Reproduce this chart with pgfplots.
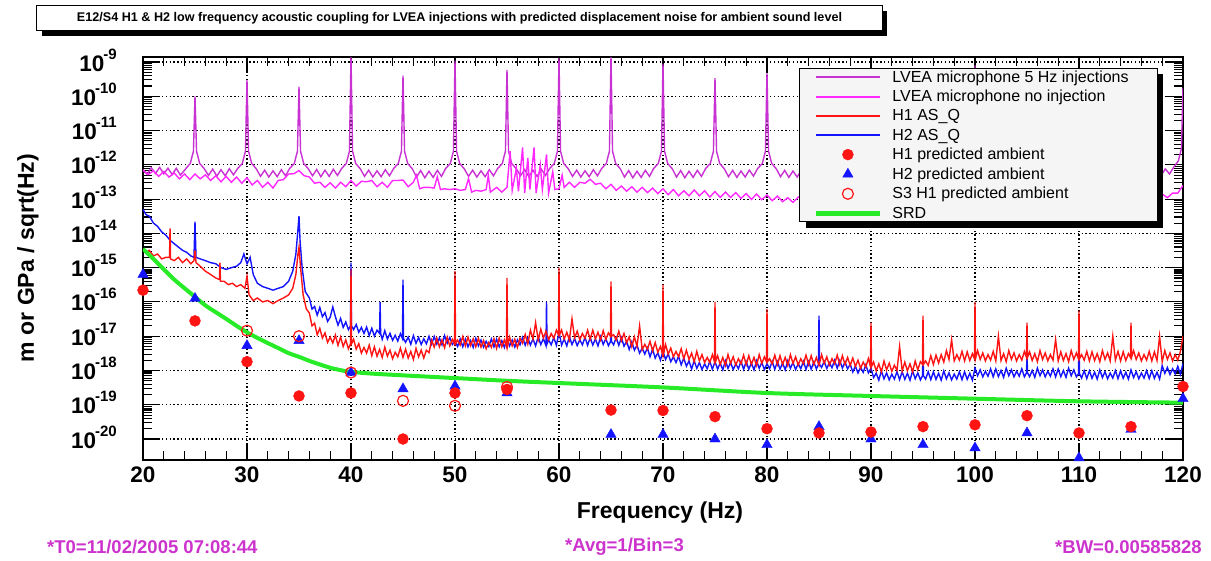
\documentclass[border=0pt]{standalone}
\usepackage{fontspec}
\setmainfont{Liberation Sans}
\usepackage{pgfplots}
\pgfplotsset{compat=1.18}
\usetikzlibrary{shadows}

\definecolor{injcol}{RGB}{200,50,210}
\definecolor{noinjcol}{RGB}{255,40,255}
\definecolor{hred}{RGB}{255,20,20}
\definecolor{hblue}{RGB}{20,20,255}
\definecolor{srdgreen}{RGB}{40,235,40}
\definecolor{infocol}{RGB}{204,51,204}

% ROOT style exponent label
\newcommand{\ex}[1]{10\kern-1pt\raisebox{12pt}{\fontsize{15}{15}\selectfont\bfseries #1}}

\begin{document}
\begin{tikzpicture}
\useasboundingbox (-143pt,-101pt) rectangle (1068pt,460pt);
\begin{axis}[
  at={(0pt,0pt)}, anchor=south west,
  scale only axis, width=1040pt, height=403pt,
  xmin=20, xmax=120,
  ymode=log, ymin=2.44e-21, ymax=1.4e-9,
  xtick={20,30,40,50,60,70,80,90,100,110,120},
  xticklabels={20,30,40,50,60,70,80,90,100,110,120},
  minor x tick num=4,
  ytick={1e-20,1e-19,1e-18,1e-17,1e-16,1e-15,1e-14,1e-13,1e-12,1e-11,1e-10,1e-9},
  yticklabels={\ex{-20},\ex{-19},\ex{-18},\ex{-17},\ex{-16},\ex{-15},\ex{-14},\ex{-13},\ex{-12},\ex{-11},\ex{-10},\ex{-9}},
  tick label style={font=\fontsize{22.5}{24}\selectfont\bfseries},
  xticklabel style={anchor=north, inner sep=0pt, yshift=-7pt},
  yticklabel style={anchor=base east, inner sep=0pt, xshift=-26pt, yshift=-9pt},
  axis line style={line width=1.6pt},
  every tick/.style={black, line width=1.1pt},
  major tick length=16pt, minor tick length=9pt,
  grid=major,
  major grid style={black, line width=1.1pt, dash pattern=on 1.4pt off 2.4pt},
  clip mode=individual,
  legend image code/.code={\draw[mark repeat=2,mark phase=2,#1] plot coordinates {(0pt,0pt) (32pt,0pt) (64pt,0pt)};},
  legend cell align=left,
  legend style={at={(0.8034,0.7816)}, anchor=center, draw=none, fill=none,
    font=\fontsize{16}{18}\selectfont,
    inner xsep=11pt, inner ysep=1pt, column sep=8pt, row sep=2.5pt},
]
\addlegendimage{injcol, line width=2pt}
\addlegendentry{LVEA microphone 5 Hz injections\hspace*{13pt}}
\addlegendimage{noinjcol, line width=2pt}
\addlegendentry{LVEA microphone no injection}
\addlegendimage{hred, line width=2.2pt}
\addlegendentry{H1 AS\_Q}
\addlegendimage{hblue, line width=2.2pt}
\addlegendentry{H2 AS\_Q}
\addlegendimage{only marks, mark=*, mark size=5.5pt, hred}
\addlegendentry{H1 predicted ambient}
\addlegendimage{only marks, mark=triangle*, mark size=6pt, hblue}
\addlegendentry{H2 predicted ambient}
\addlegendimage{only marks, mark=o, mark size=5.5pt, hred, line width=1.2pt}
\addlegendentry{S3 H1 predicted ambient}
\addlegendimage{srdgreen, line width=5pt}
\addlegendentry{SRD}

% LVEA microphone, 5 Hz injections
\addplot[injcol, line width=1.4pt, forget plot] coordinates {
(20.0,7.0e-13) (20.4,5.3e-13) (20.8,8.2e-13) (21.2,5.6e-13) (21.6,8.4e-13) (22.0,5.5e-13)
(22.4,8.0e-13) (22.8,5.2e-13) (23.2,7.9e-13) (23.6,5.0e-13) (24.1,7.6e-13) (24.55,1.1e-12) (24.85,2.5e-12)
(25.0,1.0e-10) (25.15,2.5e-12) (25.45,1.1e-12) (25.9,7.6e-13) (26.3,4.9e-13) (26.7,7.5e-13) (27.1,4.7e-13)
(27.5,7.2e-13) (27.9,4.8e-13) (28.3,7.7e-13) (28.7,5.1e-13) (29.1,7.8e-13) (29.55,1.1e-12) (29.85,2.5e-12)
(30.0,3.0e-10) (30.15,2.5e-12) (30.45,1.1e-12) (30.9,7.6e-13) (31.3,4.6e-13) (31.7,7.0e-13) (32.1,4.4e-13)
(32.5,6.7e-13) (32.9,4.5e-13) (33.3,7.2e-13) (33.7,4.8e-13) (34.1,7.8e-13) (34.55,1.1e-12) (34.85,2.5e-12)
(35.0,1.9e-10) (35.15,2.5e-12) (35.45,1.1e-12) (35.9,7.6e-13) (36.3,4.8e-13) (36.7,7.3e-13) (37.1,4.5e-13)
(37.5,7.0e-13) (37.9,4.6e-13) (38.3,7.4e-13) (38.7,4.9e-13) (39.1,7.8e-13) (39.55,1.1e-12) (39.85,2.5e-12)
(40.0,1.5e-9) (40.15,2.5e-12) (40.45,1.1e-12) (40.9,7.6e-13) (41.3,4.6e-13) (41.7,7.0e-13) (42.1,4.4e-13)
(42.5,6.7e-13) (42.9,4.5e-13) (43.3,7.2e-13) (43.7,4.8e-13) (44.1,7.8e-13) (44.55,1.1e-12) (44.85,2.5e-12)
(45.0,4.0e-10) (45.15,2.5e-12) (45.45,1.1e-12) (45.9,7.6e-13) (46.3,4.4e-13) (46.7,6.8e-13) (47.1,4.2e-13)
(47.5,6.5e-13) (47.9,4.3e-13) (48.3,6.9e-13) (48.7,4.6e-13) (49.1,7.8e-13) (49.55,1.1e-12) (49.85,2.5e-12)
(50.0,1.1e-9) (50.15,2.5e-12) (50.45,1.1e-12) (50.9,7.6e-13) (51.3,4.6e-13) (51.7,7.0e-13) (52.1,4.4e-13)
(52.5,6.7e-13) (52.9,4.5e-13) (53.3,7.2e-13) (53.7,4.8e-13) (54.1,7.8e-13) (54.55,1.1e-12) (54.85,2.5e-12)
(55.0,5.9e-10) (55.15,2.5e-12) (55.45,1.1e-12) (55.9,7.6e-13) (56.3,4.8e-13) (56.7,7.3e-13) (57.1,4.5e-13)
(57.5,7.0e-13) (57.9,4.6e-13) (58.3,7.4e-13) (58.7,4.9e-13) (59.1,7.8e-13) (59.55,1.1e-12) (59.85,2.5e-12)
(60.0,1.3e-9) (60.15,2.5e-12) (60.45,1.1e-12) (60.9,7.6e-13) (61.3,4.6e-13) (61.7,7.0e-13) (62.1,4.4e-13)
(62.5,6.7e-13) (62.9,4.5e-13) (63.3,7.2e-13) (63.7,4.8e-13) (64.1,7.8e-13) (64.55,1.1e-12) (64.85,2.5e-12)
(65.0,1.5e-9) (65.15,2.5e-12) (65.45,1.1e-12) (65.9,7.6e-13) (66.3,4.4e-13) (66.7,6.8e-13) (67.1,4.2e-13)
(67.5,6.5e-13) (67.9,4.3e-13) (68.3,6.9e-13) (68.7,4.6e-13) (69.1,7.8e-13) (69.55,1.1e-12) (69.85,2.5e-12)
(70.0,9.0e-10) (70.15,2.5e-12) (70.45,1.1e-12) (70.9,7.6e-13) (71.3,4.4e-13) (71.7,6.8e-13) (72.1,4.2e-13)
(72.5,6.5e-13) (72.9,4.3e-13) (73.3,6.9e-13) (73.7,4.6e-13) (74.1,7.8e-13) (74.55,1.1e-12) (74.85,2.5e-12)
(75.0,3.4e-10) (75.15,2.5e-12) (75.45,1.1e-12) (75.9,7.6e-13) (76.3,4.5e-13) (76.7,6.9e-13) (77.1,4.3e-13)
(77.5,6.6e-13) (77.9,4.4e-13) (78.3,7.0e-13) (78.7,4.7e-13) (79.1,7.8e-13) (79.55,1.1e-12) (79.85,2.5e-12)
(80.0,4.7e-10) (80.15,2.5e-12) (80.45,1.1e-12) (80.9,7.6e-13) (81.3,4.5e-13) (81.7,6.9e-13) (82.1,4.3e-13)
(82.5,6.6e-13) (82.9,4.4e-13) (83.3,7.0e-13) (83.7,4.7e-13) (84.1,7.8e-13) (84.55,1.1e-12) (84.85,2.5e-12)
(85.0,3.0e-10) (85.15,2.5e-12) (85.45,1.1e-12) (85.9,7.6e-13) (86.3,4.5e-13) (86.7,6.9e-13) (87.1,4.3e-13)
(87.5,6.6e-13) (87.9,4.4e-13) (88.3,7.0e-13) (88.7,4.7e-13) (89.1,7.8e-13) (89.55,1.1e-12) (89.85,2.5e-12)
(90.0,6.0e-10) (90.15,2.5e-12) (90.45,1.1e-12) (90.9,7.6e-13) (91.3,4.5e-13) (91.7,6.9e-13) (92.1,4.3e-13)
(92.5,6.6e-13) (92.9,4.4e-13) (93.3,7.0e-13) (93.7,4.7e-13) (94.1,7.8e-13) (94.55,1.1e-12) (94.85,2.5e-12)
(95.0,3.0e-10) (95.15,2.5e-12) (95.45,1.1e-12) (95.9,7.6e-13) (96.3,4.5e-13) (96.7,6.9e-13) (97.1,4.3e-13)
(97.5,6.6e-13) (97.9,4.4e-13) (98.3,7.0e-13) (98.7,4.7e-13) (99.1,7.8e-13) (99.55,1.1e-12) (99.85,2.5e-12)
(100.0,8.0e-10) (100.15,2.5e-12) (100.45,1.1e-12) (100.9,7.6e-13) (101.3,4.5e-13) (101.7,6.9e-13) (102.1,4.3e-13)
(102.5,6.6e-13) (102.9,4.4e-13) (103.3,7.0e-13) (103.7,4.7e-13) (104.1,7.8e-13) (104.55,1.1e-12) (104.85,2.5e-12)
(105.0,3.2e-10) (105.15,2.5e-12) (105.45,1.1e-12) (105.9,7.6e-13) (106.3,4.5e-13) (106.7,6.9e-13) (107.1,4.3e-13)
(107.5,6.6e-13) (107.9,4.4e-13) (108.3,7.0e-13) (108.7,4.7e-13) (109.1,7.8e-13) (109.55,1.1e-12) (109.85,2.5e-12)
(110.0,5.0e-10) (110.15,2.5e-12) (110.45,1.1e-12) (110.9,7.6e-13) (111.3,4.6e-13) (111.7,7.0e-13) (112.1,4.4e-13)
(112.5,6.7e-13) (112.9,4.5e-13) (113.3,7.2e-13) (113.7,4.8e-13) (114.1,7.8e-13) (114.55,1.1e-12) (114.85,2.5e-12)
(115.0,3.0e-10) (115.15,2.5e-12) (115.45,1.1e-12) (115.9,7.6e-13) (116.3,4.8e-13) (116.7,7.3e-13) (117.1,4.6e-13)
(117.5,7.2e-13) (117.9,5.0e-13) (118.3,7.6e-13) (118.7,5.4e-13) (119.1,8.5e-13) (119.55,1.3e-12) (119.85,3.0e-12)
(120.0,1.8e-10)
};

% LVEA microphone, no injection
\addplot[noinjcol, line width=1.4pt, forget plot] coordinates {
(20.0,7.1e-13) (20.5,5.2e-13) (21.0,6.7e-13) (21.5,4.6e-13) (22.0,6.4e-13) (22.5,4.4e-13) (23.0,5.8e-13)
(23.5,3.9e-13) (24.0,5.4e-13) (24.5,3.7e-13) (25.0,5.4e-13) (25.5,3.9e-13) (26.0,5.1e-13) (26.5,3.5e-13)
(27.0,4.8e-13) (27.5,3.2e-13) (28.0,4.6e-13) (28.5,3.1e-13) (29.0,4.4e-13) (29.5,2.9e-13) (30.0,4.2e-13)
(30.5,2.6e-13) (31.0,3.5e-13) (31.5,2.2e-13) (32.0,3.1e-13) (32.5,2.1e-13) (33.0,3.5e-13) (33.5,3.7e-13)
(34.0,5.4e-13) (34.5,5.5e-13) (35.0,6.8e-13) (35.5,4.8e-13) (36.0,4.4e-13) (36.5,2.9e-13) (37.0,3.1e-13)
(37.5,2.2e-13) (38.0,3.0e-13) (38.5,2.1e-13) (39.0,3.1e-13) (39.5,2.3e-13) (40.0,3.5e-13) (40.5,2.4e-13)
(41.0,3.3e-13) (41.5,3.2e-13) (42.0,3.5e-13) (42.5,2.3e-13) (43.0,3.1e-13) (43.5,2.2e-13) (44.0,3.5e-13)
(44.5,3.5e-13) (45.0,3.6e-13) (45.5,2.3e-13) (46.0,3.1e-13) (46.3,5.0e-13) (46.6,2.0e-13) (47.0,2.2e-13)
(47.5,2.2e-13) (48.0,2.1e-13) (48.3,4.5e-13) (48.6,1.9e-13) (49.0,2.0e-13) (49.5,1.9e-13) (50.0,2.0e-13)
(50.5,1.8e-13) (51.0,1.9e-13) (51.3,4.0e-13) (51.6,1.6e-13) (52.0,1.8e-13) (52.5,1.7e-13) (53.0,1.9e-13)
(53.2,5.0e-13) (53.4,1.6e-13) (54.0,2.2e-13) (54.5,1.6e-13) (55.0,2.2e-13) (55.3,2.5e-12) (55.5,1.8e-13)
(55.9,7.9e-13) (56.1,1.7e-13) (56.5,3.2e-12) (56.7,1.5e-13) (57.0,1.6e-12) (57.2,1.9e-13) (57.6,3.2e-12)
(57.8,1.5e-13) (58.2,1.0e-12) (58.4,1.9e-13) (58.8,2.0e-12) (59.0,1.5e-13) (59.4,6.3e-13) (59.6,1.9e-13)
(60.0,2.0e-13) (60.3,5.0e-13) (60.5,2.2e-13) (61.0,3.1e-13) (61.5,2.2e-13) (62.0,3.1e-13) (62.5,2.9e-13)
(63.0,3.8e-13) (63.5,2.7e-13) (64.0,2.9e-13) (64.5,2.0e-13) (65.0,2.7e-13) (65.5,1.8e-13) (66.0,2.4e-13)
(66.5,1.7e-13) (67.0,2.3e-13) (67.5,1.6e-13) (68.0,2.2e-13) (68.5,1.55e-13) (69.0,2.1e-13) (69.5,1.45e-13)
(70.0,2.0e-13) (70.5,1.35e-13) (71.0,1.9e-13) (71.5,1.25e-13) (72.0,1.75e-13) (72.5,1.25e-13) (73.0,1.85e-13)
(73.5,1.25e-13) (74.0,1.75e-13) (74.5,1.15e-13) (75.0,1.65e-13) (75.5,1.12e-13) (76.0,1.6e-13) (76.5,1.12e-13)
(77.0,1.55e-13) (77.5,1.05e-13) (78.0,1.45e-13) (78.5,9.8e-14) (79.0,1.4e-13) (79.5,9.6e-14) (80.0,1.32e-13)
(80.5,9.0e-14) (81.0,1.22e-13) (81.5,8.4e-14) (82.0,1.1e-13) (82.5,8.0e-14) (83.0,1.15e-13) (83.5,1.05e-13)
(84.0,1.18e-13) (84.5,1.1e-13) (86.0,1.1e-13) (88.0,1.0e-13) (90.0,1.05e-13) (92.0,9.5e-14) (94.0,1.0e-13)
(96.0,9.2e-14) (98.0,9.8e-14) (100.0,9.3e-14) (102.0,9.6e-14) (104.0,9.0e-14) (106.0,9.4e-14) (108.0,8.8e-14)
(110.0,1.1e-13) (110.5,8.2e-14) (111.0,1.15e-13) (111.5,8.4e-14) (112.0,1.2e-13) (112.5,8.6e-14) (113.0,1.25e-13)
(113.5,9.0e-14) (114.0,1.3e-13) (114.5,9.5e-14) (115.0,1.3e-13) (115.5,1.0e-13) (116.0,1.35e-13) (116.5,1.0e-13)
(117.0,1.4e-13) (117.5,1.05e-13) (118.0,1.4e-13) (118.5,1.1e-13) (119.0,1.5e-13) (119.5,1.5e-13) (120.0,2.5e-13)
};

% H2 AS_Q
\addplot[hblue, line width=1.4pt, forget plot] coordinates {
(20.0,5.0e-14) (20.3,3.5e-14) (20.6,3.2e-14) (21.0,2.0e-14) (21.4,1.6e-14) (21.8,1.1e-14) (22.2,8.9e-15)
(22.6,6.3e-15) (23.0,5.0e-15) (23.4,4.0e-15) (23.8,3.2e-15) (24.2,2.8e-15) (24.6,2.2e-15) (24.9,2.0e-15)
(25.0,2.2e-14) (25.1,2.0e-15) (25.5,1.8e-15) (26.0,1.6e-15) (26.5,1.4e-15) (27.0,1.3e-15) (27.5,1.0e-15)
(28.0,8.9e-16) (28.5,1.0e-15) (29.0,1.1e-15) (29.4,1.4e-15) (29.7,2.5e-15) (30.0,1.3e-15) (30.3,2.0e-15)
(30.6,6.3e-16) (31.0,3.5e-16) (31.5,2.8e-16) (32.0,2.5e-16) (32.5,2.2e-16) (33.0,2.5e-16) (33.5,2.8e-16)
(34.0,4.0e-16) (34.4,7.9e-16) (34.7,2.5e-15) (34.9,1.3e-14) (35.0,3.2e-14) (35.1,6.3e-15) (35.3,1.0e-15)
(35.6,2.0e-16)
(36.0,1.3e-16) (36.25,6.2e-17) (36.5,7.4e-17) (36.75,4.1e-17) (37.0,6.9e-17) (37.25,3.7e-17) (37.5,4.9e-17)
(37.75,2.7e-17) (38.0,3.6e-17) (38.25,7.1e-17) (38.5,3.7e-17) (38.75,2.1e-17) (39.0,3.3e-17) (39.25,1.8e-17)
(39.5,2.6e-17) (39.75,1.55e-17) (39.95,2.0e-17) (40.0,1.4e-15) (40.05,2.0e-17) (40.25,1.56e-17) (40.5,2.2e-17)
(40.75,1.3e-17) (41.0,1.8e-17) (41.25,1.2e-17) (41.5,1.85e-17) (41.75,1.04e-17) (42.0,1.7e-17) (42.25,1.0e-17)
(42.5,1.5e-17) (42.75,1.2e-17) (42.8,1.0e-16) (42.85,1.2e-17) (43.0,8.1e-18) (43.25,1.45e-17) (43.5,8.2e-18)
(43.75,1.22e-17) (44.0,7.6e-18) (44.25,1.06e-17) (44.5,7.2e-18) (44.75,1.19e-17) (44.95,8.5e-18) (45.0,4.5e-16)
(45.05,8.5e-18) (45.25,6.6e-18) (45.5,9.4e-18) (45.75,5.8e-18) (46.0,1.04e-17) (46.25,6.2e-18) (46.5,9.2e-18)
(46.75,5.7e-18) (47.0,8.4e-18) (47.25,6.0e-18) (47.5,9.9e-18) (47.75,5.8e-18) (48.0,9.8e-18) (48.25,5.9e-18)
(48.5,8.9e-18) (48.75,5.6e-18) (49.0,1.04e-17) (49.25,6.2e-18) (49.5,9.2e-18) (49.75,5.7e-18) (50.0,7.1e-18)
(50.25,5.0e-18) (50.5,8.3e-18) (50.75,4.9e-18) (51.0,8.2e-18) (51.25,4.9e-18) (51.5,7.4e-18) (51.75,4.7e-18)
(52.0,8.7e-18) (52.25,5.2e-18) (52.5,7.7e-18) (52.75,4.8e-18) (53.0,7.1e-18) (53.25,5.0e-18) (53.5,8.3e-18)
(53.75,4.9e-18) (54.0,8.2e-18) (54.25,4.9e-18) (54.5,7.4e-18) (54.75,4.7e-18) (55.0,8.7e-18) (55.25,5.2e-18)
(55.5,7.7e-18) (55.75,4.8e-18) (56.0,7.8e-18) (56.25,5.6e-18) (56.5,9.2e-18) (56.75,5.4e-18) (57.0,9.1e-18)
(57.25,5.5e-18) (57.5,8.3e-18) (57.75,5.2e-18) (58.0,9.7e-18) (58.25,5.7e-18) (58.5,8.5e-18) (58.75,5.3e-18)
(58.8,1.0e-16) (58.85,6.0e-18) (59.0,7.8e-18) (59.25,5.6e-18) (59.5,9.2e-18) (59.75,5.4e-18) (60.0,1.3e-17)
(60.25,5.5e-18) (60.5,8.3e-18) (60.75,5.2e-18) (61.0,9.7e-18) (61.25,5.7e-18) (61.5,8.5e-18) (61.75,5.3e-18)
(62.0,7.8e-18) (62.25,5.6e-18) (62.5,9.2e-18) (62.75,5.4e-18) (63.0,9.1e-18) (63.25,5.5e-18) (63.5,8.3e-18)
(63.75,5.2e-18) (64.0,9.7e-18) (64.25,5.7e-18) (64.5,8.5e-18) (64.75,5.3e-18) (64.95,7.0e-18) (65.0,2.5e-17)
(65.05,7.0e-18) (65.25,5.6e-18) (65.5,9.2e-18) (65.75,5.4e-18) (66.0,9.1e-18) (66.25,5.1e-18) (66.5,7.1e-18)
(66.75,4.1e-18) (67.0,6.9e-18) (67.25,3.9e-18) (67.5,5.5e-18) (67.75,3.2e-18) (68.0,4.5e-18) (68.25,3.0e-18)
(68.5,4.6e-18) (68.75,2.5e-18) (69.0,4.2e-18) (69.25,2.3e-18) (69.5,3.3e-18) (69.75,2.0e-18) (70.0,3.6e-18)
(70.25,2.1e-18) (70.5,3.05e-18) (70.75,1.8e-18) (71.0,2.5e-18) (71.25,1.7e-18) (71.5,2.6e-18) (71.75,1.46e-18)
(72.0,2.3e-18) (72.25,1.33e-18) (72.5,1.9e-18) (72.75,1.1e-18) (73.0,1.93e-18) (73.25,1.15e-18) (73.5,1.71e-18)
(73.75,1.06e-18) (74.0,1.57e-18) (74.25,1.12e-18) (74.5,1.85e-18) (74.75,1.08e-18) (75.0,1.82e-18) (75.25,1.09e-18)
(75.5,1.65e-18) (75.75,1.04e-18) (76.0,1.93e-18) (76.25,1.15e-18) (76.5,1.71e-18) (76.75,1.06e-18) (77.0,1.57e-18)
(77.25,1.12e-18) (77.5,1.85e-18) (77.75,1.08e-18) (78.0,1.82e-18) (78.25,1.09e-18) (78.5,1.65e-18) (78.75,1.04e-18)
(79.0,1.93e-18) (79.25,1.15e-18) (79.5,1.71e-18) (79.75,1.06e-18) (80.0,1.57e-18) (80.25,1.12e-18) (80.5,1.85e-18)
(80.75,1.08e-18) (81.0,1.82e-18) (81.25,1.09e-18) (81.5,1.65e-18) (81.75,1.04e-18) (82.0,1.93e-18) (82.25,1.15e-18)
(82.5,1.71e-18) (82.75,1.06e-18) (83.0,1.57e-18) (83.25,1.12e-18) (83.5,1.85e-18) (83.75,1.08e-18) (84.0,1.82e-18)
(84.25,1.09e-18) (84.5,1.77e-18) (84.75,1.11e-18) (84.95,1.5e-18) (85.0,4.0e-17) (85.05,1.5e-18) (85.25,1.23e-18)
(85.5,1.83e-18) (85.75,1.14e-18) (86.0,1.68e-18) (86.25,1.2e-18) (86.5,1.98e-18) (86.75,1.16e-18) (87.0,1.95e-18)
(87.25,1.17e-18) (87.5,1.77e-18) (87.75,1.11e-18) (88.0,1.52e-18) (88.25,9.0e-19) (88.5,1.34e-18) (88.75,8.4e-19)
(89.0,1.23e-18) (89.25,8.8e-19) (89.5,1.45e-18) (89.75,8.5e-19) (90.0,1.17e-18) (90.25,6.2e-19) (90.5,8.3e-19)
(90.75,5.2e-19) (91.0,9.7e-19) (91.25,5.7e-19) (91.5,8.5e-19) (91.75,5.3e-19) (92.0,7.8e-19) (92.25,5.6e-19)
(92.5,9.2e-19) (92.75,5.4e-19) (93.0,9.1e-19) (93.25,5.5e-19) (93.5,8.3e-19) (93.75,5.2e-19) (94.0,9.7e-19)
(94.25,5.7e-19) (94.5,8.5e-19) (94.75,5.3e-19) (94.95,7.0e-19) (95.0,3.2e-18) (95.05,7.0e-19) (95.25,5.6e-19)
(95.5,9.2e-19) (95.75,5.4e-19) (96.0,9.1e-19) (96.25,5.5e-19) (96.5,8.3e-19) (96.75,5.2e-19) (97.0,9.7e-19)
(97.25,5.7e-19) (97.5,8.5e-19) (97.75,5.3e-19) (98.0,7.8e-19) (98.25,5.6e-19) (98.5,9.2e-19) (98.75,5.4e-19)
(99.0,9.1e-19) (99.25,5.5e-19) (99.5,8.3e-19) (99.75,5.2e-19) (100.0,1.17e-18) (100.25,7.0e-19) (100.5,1.04e-18)
(100.75,6.5e-19) (101.0,9.5e-19) (101.25,6.8e-19) (101.5,1.12e-18) (101.75,6.5e-19) (102.0,1.11e-18) (102.25,6.6e-19)
(102.5,1.0e-18) (102.75,6.3e-19) (103.0,1.17e-18) (103.25,7.0e-19) (103.5,1.04e-18) (103.75,6.5e-19) (104.0,9.5e-19)
(104.25,6.8e-19) (104.5,1.12e-18) (104.75,6.5e-19) (104.95,8.5e-19) (105.0,3.2e-18) (105.05,8.5e-19) (105.25,6.6e-19)
(105.5,1.0e-18) (105.75,6.3e-19) (106.0,1.17e-18) (106.25,7.0e-19) (106.5,1.04e-18) (106.75,6.5e-19) (107.0,9.5e-19)
(107.25,6.8e-19) (107.5,1.12e-18) (107.75,6.5e-19) (108.0,1.11e-18) (108.25,6.6e-19) (108.5,1.0e-18) (108.75,6.3e-19)
(109.0,1.17e-18) (109.25,7.0e-19) (109.5,1.04e-18) (109.75,6.5e-19) (109.95,8.0e-19) (110.0,6.3e-18) (110.05,8.0e-19)
(110.25,6.0e-19) (110.5,9.9e-19) (110.75,5.8e-19) (111.0,9.8e-19) (111.25,5.9e-19) (111.5,8.9e-19) (111.75,5.6e-19)
(112.0,1.04e-18) (112.25,6.2e-19) (112.5,9.2e-19) (112.75,5.7e-19) (113.0,8.4e-19) (113.25,6.0e-19) (113.5,9.9e-19)
(113.75,5.8e-19) (114.0,9.8e-19) (114.25,5.9e-19) (114.5,8.9e-19) (114.75,5.6e-19) (115.0,1.04e-18) (115.25,6.2e-19)
(115.5,9.2e-19) (115.75,5.7e-19) (116.0,8.4e-19) (116.25,6.0e-19) (116.5,9.9e-19) (116.75,5.8e-19) (117.0,9.8e-19)
(117.25,5.9e-19) (117.5,8.9e-19) (117.75,5.6e-19) (118.0,1.38e-18) (118.25,8.2e-19) (118.5,1.22e-18) (118.75,7.6e-19)
(119.0,1.12e-18) (119.25,8.0e-19) (119.5,1.32e-18) (119.75,7.7e-19) (120.0,1.6e-18)
};

% H1 AS_Q
\addplot[hred, line width=1.4pt, forget plot] coordinates {
(20.0,3.5e-15) (20.3,2.8e-15) (20.6,3.2e-15) (21.0,2.2e-15) (21.4,2.5e-15) (21.8,1.8e-15) (22.2,2.0e-15)
(22.55,2.0e-15) (22.6,1.4e-14) (22.65,1.8e-15) (23.0,1.6e-15) (23.4,2.0e-15) (23.8,1.4e-15) (24.2,1.8e-15)
(24.6,1.3e-15) (24.9,1.6e-15) (25.0,3.2e-15) (25.1,1.4e-15) (25.5,1.1e-15) (26.0,7.9e-16) (26.5,6.3e-16)
(27.0,5.0e-16) (27.35,4.5e-16) (27.4,1.4e-15) (27.45,4.0e-16) (27.8,4.0e-16) (28.2,3.2e-16) (28.6,3.5e-16)
(29.0,2.8e-16) (29.4,3.2e-16) (29.8,2.5e-16) (30.0,5.6e-16) (30.2,1.6e-16) (30.6,1.1e-16) (31.0,1.3e-16)
(31.5,1.0e-16) (32.0,1.1e-16) (32.5,8.9e-17) (33.0,1.1e-16) (33.5,1.3e-16) (34.0,1.6e-16) (34.4,2.5e-16)
(34.7,6.3e-16) (34.9,2.5e-15) (35.0,4.0e-15) (35.15,1.0e-15) (35.4,1.6e-16) (35.7,6.3e-17)
(36.0,4.7e-17) (36.25,2.0e-17) (36.5,2.4e-17) (36.75,1.1e-17) (37.0,1.7e-17) (37.25,8.8e-18) (37.5,1.25e-17)
(37.75,6.6e-18) (38.0,9.4e-18) (38.25,6.3e-18) (38.5,1.08e-17) (38.75,5.4e-18) (39.0,9.5e-18) (39.25,5.0e-18)
(39.5,7.8e-18) (39.75,4.3e-18) (39.95,6.0e-18) (40.0,8.9e-16) (40.05,6.0e-18) (40.25,8.1e-18) (40.5,4.2e-18)
(40.75,6.1e-18) (41.0,3.2e-18) (41.25,4.7e-18) (41.5,3.2e-18) (41.75,5.5e-18) (42.0,2.7e-18) (42.25,4.9e-18)
(42.5,2.6e-18) (42.75,4.1e-18) (43.0,2.4e-18) (43.25,4.8e-18) (43.5,2.6e-18) (43.75,3.9e-18) (44.0,2.2e-18)
(44.25,3.4e-18) (44.5,2.5e-18) (44.75,4.5e-18) (45.0,2.4e-18) (45.25,4.2e-18) (45.5,2.3e-18) (45.75,3.6e-18)
(46.0,2.1e-18) (46.25,4.4e-18) (46.5,2.5e-18) (46.75,3.9e-18) (47.0,2.3e-18) (47.25,3.9e-18) (47.5,3.3e-18)
(47.75,7.7e-18) (48.0,4.8e-18) (48.25,8.8e-18) (48.5,4.9e-18) (48.75,7.8e-18) (49.0,4.6e-18) (49.25,9.4e-18)
(49.5,5.2e-18) (49.75,8.1e-18) (49.95,6.0e-18) (50.0,7.9e-16) (50.05,6.0e-18) (50.25,7.7e-18) (50.5,5.5e-18)
(50.75,9.8e-18) (51.0,5.2e-18) (51.25,9.5e-18) (51.5,5.3e-18) (51.75,8.4e-18) (52.0,4.9e-18) (52.25,8.7e-18)
(52.5,4.8e-18) (52.75,7.5e-18) (53.0,4.3e-18) (53.25,6.6e-18) (53.5,4.7e-18) (53.75,8.4e-18) (54.0,4.4e-18)
(54.25,8.8e-18) (54.5,4.9e-18) (54.75,7.8e-18) (54.95,5.0e-18) (55.0,5.0e-16) (55.05,5.0e-18) (55.25,9.4e-18)
(55.5,5.2e-18) (55.75,8.1e-18) (56.0,4.7e-18) (56.25,8.8e-18) (56.5,6.2e-18) (56.75,1.12e-17) (57.0,5.9e-18)
(57.25,1.5e-17) (57.5,8.3e-18) (57.75,2.5e-17) (58.0,7.7e-18) (58.25,1.6e-17) (58.5,8.8e-18) (58.75,1.4e-17)
(59.0,7.9e-18) (59.25,1.2e-17) (59.5,8.6e-18) (59.75,1.5e-17) (59.95,1.1e-17) (60.0,1.0e-15) (60.05,1.1e-17)
(60.25,1.5e-17) (60.5,8.3e-18) (60.75,1.3e-17) (61.0,7.7e-18) (61.25,3.2e-17) (61.5,8.8e-18) (61.75,1.4e-17)
(62.0,7.9e-18) (62.25,1.2e-17) (62.5,8.6e-18) (62.75,1.5e-17) (63.0,8.1e-18) (63.25,1.5e-17) (63.5,8.3e-18)
(63.75,1.3e-17) (64.0,7.7e-18) (64.25,1.45e-17) (64.5,8.0e-18) (64.75,1.25e-17) (64.95,1.0e-17) (65.0,4.0e-16)
(65.05,1.0e-17) (65.25,1.1e-17) (65.5,7.8e-18) (65.75,1.4e-17) (66.0,7.4e-18) (66.25,1.2e-17) (66.5,6.4e-18)
(66.75,9.6e-18) (67.0,4.9e-18) (67.25,9.6e-18) (67.5,5.0e-18) (67.75,2.0e-17) (68.0,4.0e-18) (68.25,5.8e-18)
(68.5,4.1e-18) (68.75,7.1e-18) (69.0,3.7e-18) (69.25,6.5e-18) (69.5,3.4e-18) (69.75,5.0e-18) (69.95,3.0e-18)
(70.0,3.2e-16) (70.05,3.0e-18) (70.25,5.7e-18) (70.5,3.0e-18) (70.75,4.5e-18) (71.0,2.5e-18) (71.25,3.6e-18)
(71.5,2.5e-18) (71.75,4.3e-18) (72.0,2.2e-18) (72.25,3.9e-18) (72.5,2.1e-18) (72.75,3.2e-18) (73.0,1.8e-18)
(73.25,3.6e-18) (73.5,1.9e-18) (73.75,2.9e-18) (74.0,1.7e-18) (74.25,2.4e-18) (74.5,1.7e-18) (74.75,2.9e-18)
(74.95,1.8e-18) (75.0,1.0e-16) (75.05,1.8e-18) (75.25,2.7e-18) (75.5,1.5e-18) (75.75,2.4e-18) (76.0,1.4e-18)
(76.25,2.9e-18) (76.5,1.6e-18) (76.75,2.5e-18) (77.0,1.44e-18) (77.25,2.2e-18) (77.5,1.56e-18) (77.75,2.8e-18)
(78.0,1.48e-18) (78.25,2.7e-18) (78.5,1.5e-18) (78.75,2.4e-18) (79.0,1.4e-18) (79.25,2.9e-18) (79.5,1.6e-18)
(79.75,2.5e-18) (79.95,1.8e-18) (80.0,6.3e-17) (80.05,1.8e-18) (80.25,2.2e-18) (80.5,1.56e-18) (80.75,2.8e-18)
(81.0,1.48e-18) (81.25,2.7e-18) (81.5,1.5e-18) (81.75,2.4e-18) (82.0,1.4e-18) (82.25,2.9e-18) (82.5,1.6e-18)
(82.75,2.5e-18) (83.0,1.44e-18) (83.25,2.2e-18) (83.5,1.56e-18) (83.75,2.8e-18) (84.0,1.48e-18) (84.25,2.7e-18)
(84.5,1.5e-18) (84.75,2.4e-18) (85.0,1.4e-18) (85.25,2.9e-18) (85.5,1.6e-18) (85.75,2.5e-18) (86.0,1.44e-18)
(86.25,2.2e-18) (86.5,1.56e-18) (86.75,2.8e-18) (87.0,1.48e-18) (87.25,2.7e-18) (87.5,1.5e-18) (87.75,2.4e-18)
(88.0,1.4e-18) (88.25,2.3e-18) (88.5,1.3e-18) (88.75,2.0e-18) (89.0,1.15e-18) (89.25,1.76e-18) (89.5,1.25e-18)
(89.75,2.24e-18) (89.95,1.3e-18) (90.0,2.5e-17) (90.05,1.3e-18) (90.25,1.76e-18) (90.5,9.8e-19) (90.75,1.56e-18)
(91.0,9.1e-19) (91.25,1.89e-18) (91.5,1.04e-18) (91.75,1.63e-18) (92.0,9.4e-19) (92.25,1.43e-18) (92.5,1.01e-18)
(92.75,5.0e-18) (93.0,9.6e-19) (93.25,1.76e-18) (93.5,9.8e-19) (93.75,1.56e-18) (94.0,9.1e-19) (94.25,1.89e-18)
(94.5,1.04e-18) (94.75,1.8e-18) (94.95,1.5e-18) (95.0,4.0e-17) (95.05,1.5e-18) (95.25,1.9e-18) (95.5,1.4e-18)
(95.75,2.7e-18) (96.0,1.5e-18) (96.25,2.8e-18) (96.5,1.65e-18) (96.75,2.9e-18) (97.0,1.75e-18) (97.25,3.8e-18)
(97.5,2.1e-18) (97.75,7.9e-18) (98.0,1.9e-18) (98.25,2.9e-18) (98.5,2.0e-18) (98.75,3.6e-18) (99.0,1.9e-18)
(99.25,3.5e-18) (99.5,1.95e-18) (99.75,3.1e-18) (99.95,2.2e-18) (100.0,1.0e-16) (100.05,2.2e-18) (100.25,3.8e-18)
(100.5,2.1e-18) (100.75,3.25e-18) (101.0,1.9e-18) (101.25,2.9e-18) (101.5,2.0e-18) (101.75,3.6e-18) (102.0,1.9e-18)
(102.25,1.0e-17) (102.5,1.95e-18) (102.75,3.1e-18) (103.0,1.8e-18) (103.25,3.8e-18) (103.5,2.1e-18) (103.75,3.25e-18)
(104.0,1.9e-18) (104.25,2.9e-18) (104.5,2.0e-18) (104.75,3.6e-18) (104.95,2.4e-18) (105.0,2.5e-17) (105.05,2.4e-18)
(105.25,3.5e-18) (105.5,1.95e-18) (105.75,3.1e-18) (106.0,1.8e-18) (106.25,3.8e-18) (106.5,2.1e-18) (106.75,3.25e-18)
(107.0,1.9e-18) (107.25,2.9e-18) (107.5,2.0e-18) (107.75,7.9e-18) (108.0,1.9e-18) (108.25,3.5e-18) (108.5,1.95e-18)
(108.75,3.1e-18) (109.0,1.8e-18) (109.25,3.8e-18) (109.5,2.1e-18) (109.75,3.25e-18) (109.95,2.2e-18) (110.0,5.6e-17)
(110.05,2.2e-18) (110.25,2.9e-18) (110.5,2.0e-18) (110.75,3.6e-18) (111.0,1.9e-18) (111.25,3.5e-18) (111.5,1.95e-18)
(111.75,3.1e-18) (112.0,1.8e-18) (112.25,3.8e-18) (112.5,2.1e-18) (112.75,3.25e-18) (113.0,1.9e-18) (113.25,1.0e-17)
(113.5,2.0e-18) (113.75,3.6e-18) (114.0,1.9e-18) (114.25,3.5e-18) (114.5,1.95e-18) (114.75,3.1e-18) (114.95,2.4e-18)
(115.0,2.5e-17) (115.05,2.4e-18) (115.25,3.8e-18) (115.5,2.1e-18) (115.75,3.25e-18) (116.0,1.9e-18) (116.25,2.9e-18)
(116.5,2.0e-18) (116.75,3.6e-18) (117.0,1.9e-18) (117.25,3.5e-18) (117.5,1.95e-18) (117.75,1.0e-17) (118.0,1.8e-18)
(118.25,3.8e-18) (118.5,2.1e-18) (118.75,3.25e-18) (119.0,1.9e-18) (119.25,2.9e-18) (119.5,2.0e-18) (119.75,3.6e-18)
(120.0,1.0e-17)
};

% SRD
\addplot[srdgreen, line width=4pt, smooth, forget plot] coordinates {
(20,3.5e-15) (21,1.8e-15) (22,8.9e-16) (23,4.5e-16) (24,2.5e-16) (25,1.4e-16) (26,7.9e-17) (27,5.0e-17)
(28,3.2e-17) (29,2.0e-17) (30,1.3e-17) (31,8.9e-18) (32,6.3e-18) (33,4.5e-18) (34,3.2e-18) (35,2.5e-18)
(36,1.9e-18) (37,1.5e-18) (38,1.2e-18) (39,1.02e-18) (40,9.1e-19) (42,8.1e-19) (45,7.2e-19) (50,6.0e-19)
(55,5.0e-19) (60,4.3e-19) (70,3.2e-19) (80,2.2e-19) (90,1.8e-19) (100,1.5e-19) (110,1.26e-19) (120,1.15e-19)
};

% H2 predicted ambient
\addplot[only marks, mark=triangle*, mark size=6pt, hblue, forget plot] coordinates {
(20,6.3e-16) (25,1.26e-16) (30,5.3e-18) (35,7.4e-18) (40,8.7e-19) (45,2.9e-19) (50,3.5e-19) (55,2.2e-19)
(65,1.35e-20) (70,1.35e-20) (75,1.0e-20) (80,6.8e-21) (85,2.3e-20) (90,1.0e-20) (95,6.8e-21) (100,5.5e-21)
(105,1.5e-20) (110,2.8e-21) (115,1.9e-20) (120,1.5e-19)
};
% H1 predicted ambient
\addplot[only marks, mark=*, mark size=5.5pt, hred, forget plot] coordinates {
(20,2.2e-16) (25,2.8e-17) (30,1.8e-18) (35,1.8e-19) (40,2.2e-19) (45,1.0e-20) (50,2.2e-19) (55,2.8e-19)
(65,7.0e-20) (70,6.8e-20) (75,4.5e-20) (80,2.0e-20) (85,1.5e-20) (90,1.6e-20) (95,2.3e-20) (100,2.6e-20)
(105,4.8e-20) (110,1.5e-20) (115,2.3e-20) (120,3.4e-19)
};
% S3 H1 predicted ambient
\addplot[only marks, mark=o, mark size=5.5pt, hred, line width=1.2pt, forget plot] coordinates {
(30,1.45e-17) (35,1.0e-17) (40,8.7e-19) (45,1.3e-19) (50,9.3e-20) (55,3.3e-19)
};

% legend frame with its shadow, drawn under the legend entries
\fill[black] (rel axis cs:0.6375,0.5757) rectangle (rel axis cs:0.9808,0.9578);
\filldraw[fill=white!96!black, draw=black, line width=1pt] (rel axis cs:0.6317,0.5906) rectangle (rel axis cs:0.975,0.9727);
\end{axis}

% title box
\node[draw=black, line width=1pt, fill=white, minimum width=845pt, minimum height=25pt,
  drop shadow={shadow xshift=5pt, shadow yshift=-5pt, fill=black, opacity=1},
  font=\fontsize{12.6}{14}\selectfont\bfseries] at (316.5pt,441.5pt)
  {E12/S4 H1 \& H2 low frequency acoustic coupling for LVEA injections with predicted displacement noise for ambient sound level};

\node[rotate=90, font=\fontsize{23}{26}\selectfont\bfseries] at (-115pt,202pt) {m or GPa / sqrt(Hz)};
\node[font=\fontsize{23}{26}\selectfont\bfseries] at (517pt,-53pt) {Frequency (Hz)};

\node[anchor=west, inner sep=0pt, text=infocol, font=\fontsize{18.5}{20}\selectfont\bfseries] at (-96pt,-87pt) {*T0=11/02/2005 07:08:44};
\node[anchor=west, inner sep=0pt, text=infocol, font=\fontsize{18.5}{20}\selectfont\bfseries] at (422pt,-87pt) {*Avg=1/Bin=3};
\node[anchor=west, inner sep=0pt, text=infocol, font=\fontsize{18.5}{20}\selectfont\bfseries] at (912pt,-87pt) {*BW=0.00585828};
\end{tikzpicture}
\end{document}
